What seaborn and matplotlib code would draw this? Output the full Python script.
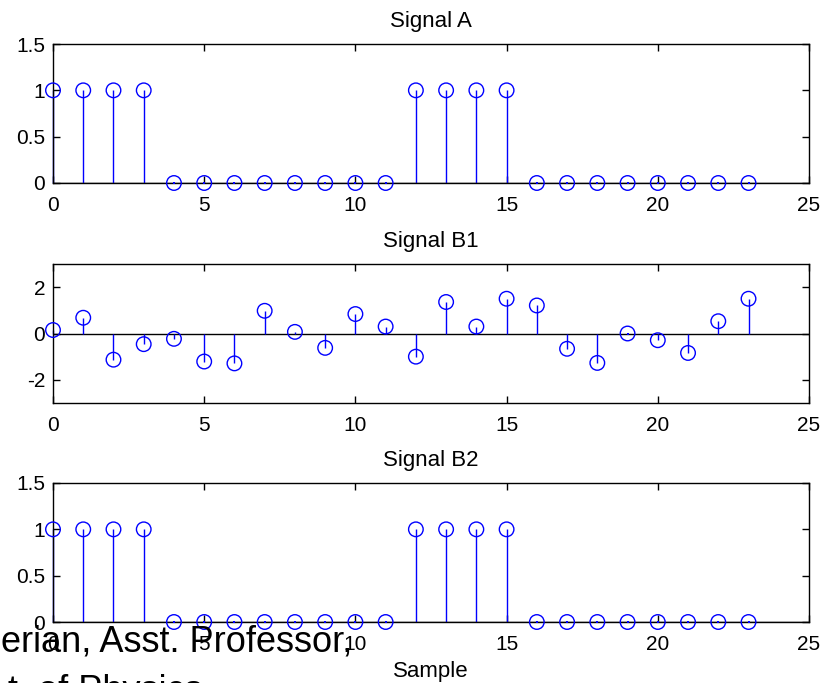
import numpy as np
import pandas as pd
import matplotlib
matplotlib.use("Agg")
import matplotlib.pyplot as plt
import seaborn as sns

# ---- data ----
samples = list(range(24))
signal_a = [1, 1, 1, 1, 0, 0, 0, 0, 0, 0, 0, 0, 1, 1, 1, 1, 0, 0, 0, 0, 0, 0, 0, 0]
signal_b1 = [0.15, 0.68, -1.13, -0.46, -0.23, -1.21, -1.29, 0.98, 0.07, -0.62, 0.84, 0.30,
             -1.00, 1.36, 0.30, 1.50, 1.21, -0.66, -1.27, 0.0, -0.29, -0.84, 0.53, 1.50]
signal_b2 = [1, 1, 1, 1, 0, 0, 0, 0, 0, 0, 0, 0, 1, 1, 1, 1, 0, 0, 0, 0, 0, 0, 0, 0]
titles = ["Signal A", "Signal B1", "Signal B2"]
xticks = [0, 5, 10, 15, 20, 25]
yticks_ab = [0, 0.5, 1, 1.5]
yticklabels_ab = ["0", "0.5", "1", "1.5"]
yticks_b1 = [-2, 0, 2]
yticklabels_b1 = ["-2", "0", "2"]
xlabel = "Sample"
overlay_line1 = "erian, Asst. Professor,"
overlay_line2 = "t. of Physics"

sns.set_style("ticks")
plt.rcParams["font.family"] = ["Liberation Sans", "DejaVu Sans"]
plt.rcParams["text.color"] = "black"
plt.rcParams["axes.labelcolor"] = "black"
plt.rcParams["xtick.color"] = "black"
plt.rcParams["ytick.color"] = "black"
plt.rcParams["axes.edgecolor"] = "black"

W, H = 827, 683
fig = plt.figure(figsize=(W / 100, H / 100), dpi=100)
fig.patch.set_facecolor("white")

blue = "#0000ff"
left = 53 / W
width = (809 - 53) / W
tops = [44, 264, 483]
bottoms = [183, 403, 622]

series = [signal_a, signal_b1, signal_b2]
ylims = [(0, 1.5), (-3, 3), (0, 1.5)]
yts = [(yticks_ab, yticklabels_ab), (yticks_b1, yticklabels_b1), (yticks_ab, yticklabels_ab)]

for i, vals in enumerate(series):
    b = 1 - bottoms[i] / H
    h = (bottoms[i] - tops[i]) / H
    ax = fig.add_axes([left, b, width, h])
    df = pd.DataFrame({"n": samples, "v": vals})
    ax.axhline(0, color="black", lw=1.0, zorder=1)
    ax.vlines(df["n"], 0, df["v"], color=blue, lw=1.0, zorder=2, clip_on=False)
    sns.scatterplot(data=df, x="n", y="v", ax=ax, marker="o", s=110,
                    facecolors="none", edgecolor=blue, linewidth=1.0,
                    zorder=3, clip_on=False, legend=False)
    zeros = df[df["v"] == 0]
    sns.scatterplot(data=zeros, x="n", y="v", ax=ax, marker="s", s=4,
                    color=blue, linewidth=0, zorder=4, clip_on=False, legend=False)
    ax.set_xlim(0, 25)
    ax.set_ylim(*ylims[i])
    ax.set_xticks(xticks)
    ax.set_xticklabels([str(t) for t in xticks])
    ax.set_yticks(yts[i][0])
    ax.set_yticklabels(yts[i][1])
    ax.set_xlabel("")
    ax.set_ylabel("")
    ax.tick_params(axis="both", direction="in", length=5, width=1.0,
                   top=True, right=True, labelsize=15, colors="black")
    ax.tick_params(axis="x", pad=9.5)
    ax.tick_params(axis="y", pad=5.5)
    for sp in ax.spines.values():
        sp.set_visible(True)
        sp.set_color("black")
        sp.set_linewidth(1.0)
    ax.set_title(titles[i], fontsize=16, pad=12, color="black")
    if i == 2:
        ax.set_xlabel(xlabel, fontsize=16, labelpad=5, color="black")

fig.text(352 / W, 1 - 652 / H, overlay_line1, fontsize=26, ha="right", va="baseline", color="black")
fig.text(8 / W, 1 - 701 / H, overlay_line2, fontsize=26, ha="left", va="baseline", color="black")

fig.savefig("out.png", dpi=100, facecolor="white")
